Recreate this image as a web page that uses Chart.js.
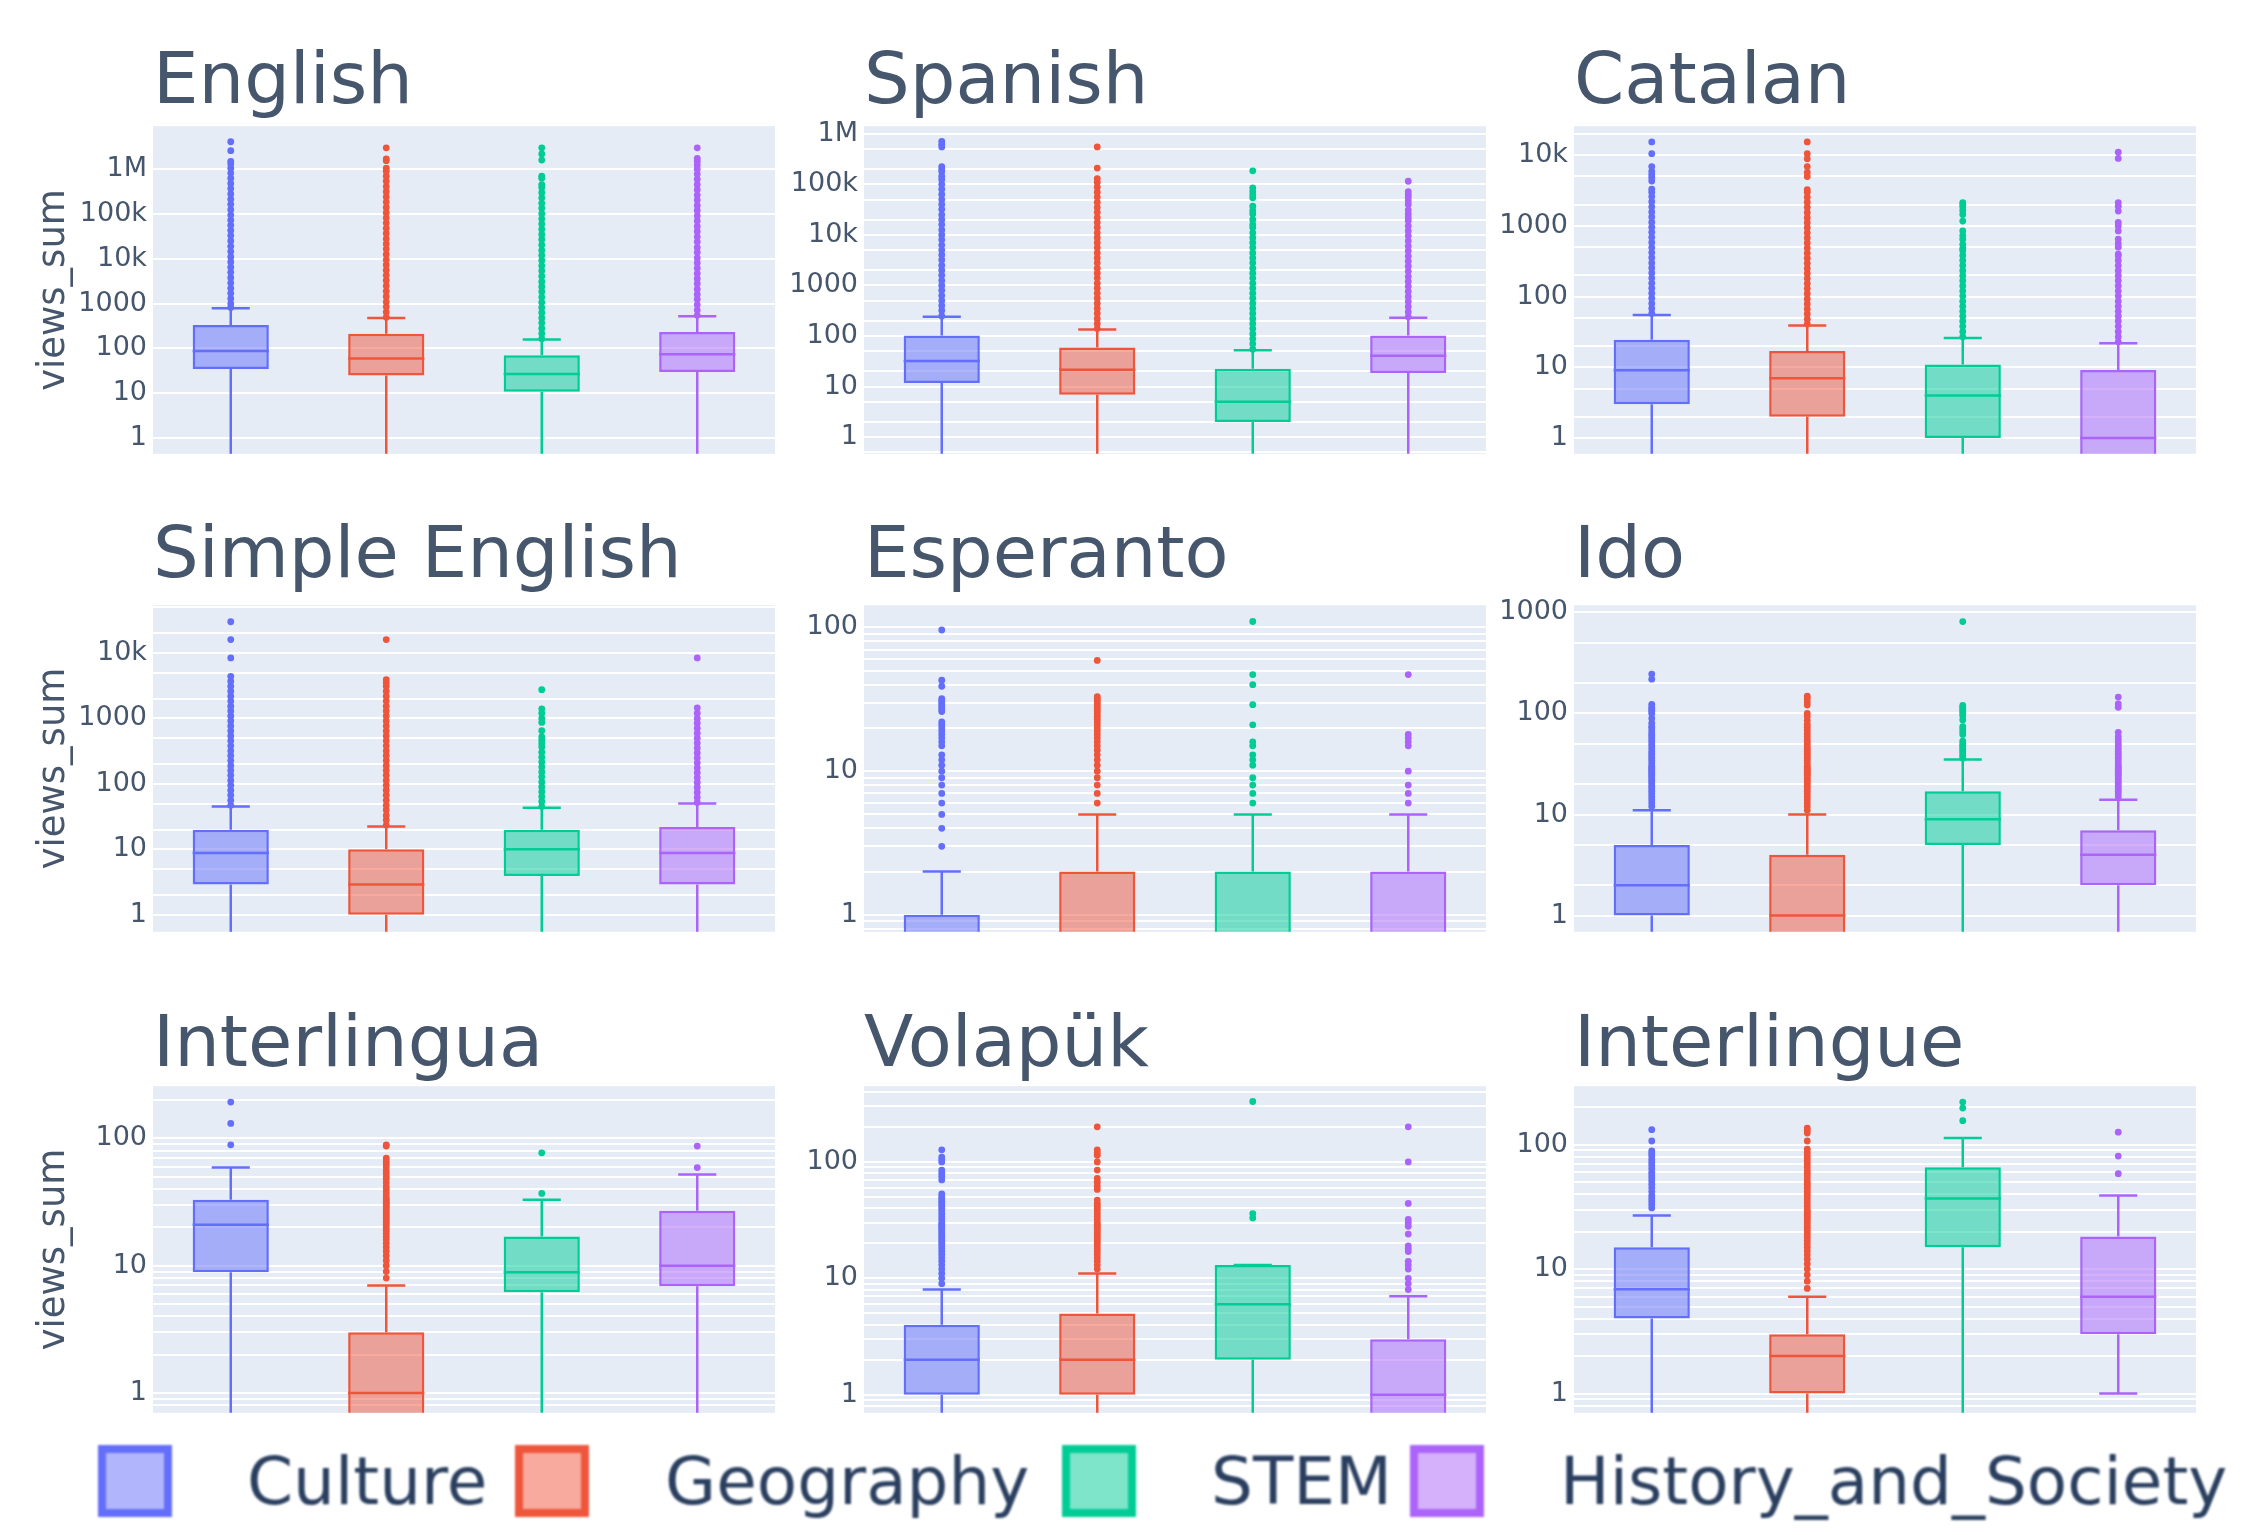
<!DOCTYPE html>
<html>
<head>
<meta charset="utf-8">
<script src="https://cdn.jsdelivr.net/npm/chart.js@4.4.1/dist/chart.umd.min.js"></script>
<style>
  html, body { margin: 0; padding: 0; background: #ffffff; }
  body { width: 2244px; height: 1535px; position: relative; overflow: hidden; font-family: "DejaVu Sans", sans-serif; }
  canvas.panel { position: absolute; }
  .ttl { position: absolute; font-size: 72px; line-height: 72px; color: #46566c; white-space: nowrap; }
  .legsq { position: absolute; box-sizing: border-box; border: 8px solid; filter: blur(1.2px); }
  .legtx { position: absolute; font-size: 66px; line-height: 66px; color: #2a3f5f; white-space: nowrap; filter: blur(1px); }
</style>
</head>
<body>
<script>
// ---------------- data ----------------
const categories = ['Culture', 'Geography', 'STEM', 'History_and_Society'];
const languages = ['English', 'Spanish', 'Catalan', 'Simple English', 'Esperanto', 'Ido', 'Interlingua', 'Volapük', 'Interlingue'];

// y axis range per panel, log10 units
const yLogRange = [
  [-0.35, 6.96], [-0.33, 6.15], [-0.22, 4.41],
  [-0.26, 4.73], [-0.118, 2.155], [-0.16, 3.07],
  [-0.14, 2.41], [-0.14, 2.65], [-0.125, 2.47]
];
// minor grid lines: none, at 2 and 5, or at every integer multiple
const minorGrid = ['none', '25', '25', '25', 'all', '25', 'all', 'all', 'all'];

const tickValues = [1, 10, 100, 1000, 10000, 100000, 1000000];
const tickLabels = ['1', '10', '100', '1000', '10k', '100k', '1M'];

// per panel: [Culture, Geography, STEM, History_and_Society]  (0 = zero views, below the log axis)
const lowerFence = [
  [0, 0, 0, 0], [0, 0, 0, 0], [0, 0, 0, 0],
  [0, 0, 0, 0], [0, 0, 0, 0], [0, 0, 0, 0],
  [0, 0, 0, 0], [0, 0, 0, 0], [0, 0, 0, 1]
];
const q1Values = [
  [35, 25, 10.8, 30], [11.7, 6.9, 2, 18.6], [3, 2, 1, 0],
  [2.9, 1, 3.9, 2.9], [0, 0, 0, 0], [1, 0, 5, 2],
  [8.9, 0, 6.2, 6.9], [1, 1, 2, 0], [4, 1, 15, 3]
];
const medianValues = [
  [88, 60, 27, 74], [32, 21.5, 5, 40.6], [9.1, 7, 4, 1],
  [8.8, 2.9, 10, 8.8], [0, 0, 0, 0], [2, 1, 9, 4],
  [21, 1, 8.9, 10], [2, 2, 6, 1], [6.9, 2, 37, 6]
];
const q3Values = [
  [335, 213, 71, 232], [102, 59, 22.4, 102], [24.5, 17, 11, 9.2],
  [20, 10, 20, 22], [1, 2, 2, 2], [5, 4, 17, 7],
  [33, 3, 17, 27], [4, 5, 13, 3], [15, 3, 66, 18.3]
];
const upperFence = [
  [790, 480, 158, 525], [240, 135, 52, 230], [55, 39, 26, 22],
  [45, 22.4, 43, 50], [2, 5, 5, 5], [11, 10, 35, 14],
  [59, 7, 33, 52], [8, 11, 13, 7], [27, 6, 113, 39]
];

// outliers per panel, per category
const outliersEnglish = [
  [820, 1000, 1300, 1700, 2200, 2900, 3800, 5000, 6500, 8500, 11000, 14500, 19000, 25000, 33000, 43000, 56000, 73000, 95000, 125000, 165000, 215000, 280000, 370000, 480000, 630000, 820000, 1050000, 1300000, 1500000, 2600000, 4100000],
  [500, 650, 850, 1100, 1450, 1900, 2500, 3300, 4300, 5600, 7300, 9500, 12500, 16500, 21500, 28000, 37000, 48000, 63000, 82000, 107000, 140000, 185000, 240000, 315000, 410000, 540000, 700000, 900000, 1050000, 1550000, 1700000, 3000000],
  [165, 215, 280, 370, 480, 630, 820, 1070, 1400, 1850, 2400, 3100, 4100, 5400, 7000, 9200, 12000, 15500, 20500, 27000, 35000, 46000, 60000, 78000, 102000, 135000, 175000, 230000, 300000, 390000, 450000, 630000, 700000, 1600000, 2200000, 3000000],
  [550, 720, 940, 1250, 1600, 2100, 2800, 3600, 4700, 6200, 8100, 10500, 14000, 18000, 24000, 31000, 41000, 53000, 70000, 91000, 120000, 155000, 205000, 265000, 350000, 455000, 600000, 780000, 1000000, 1250000, 1500000, 1750000, 3000000]
];
const outliersSpanish = [
  [250, 320, 400, 500, 630, 800, 1000, 1250, 1600, 2000, 2500, 3200, 4000, 5000, 6300, 8000, 10000, 12500, 16000, 20000, 25000, 32000, 40000, 50000, 63000, 80000, 100000, 125000, 145000, 180000, 200000, 225000, 550000, 620000, 710000],
  [140, 175, 220, 280, 350, 440, 560, 700, 880, 1100, 1400, 1750, 2200, 2800, 3500, 4400, 5600, 7000, 8800, 11000, 14000, 17500, 22000, 28000, 35000, 44000, 56000, 70000, 88000, 110000, 130000, 210000, 550000],
  [55, 70, 88, 110, 140, 175, 220, 280, 350, 440, 560, 700, 880, 1100, 1400, 1750, 2200, 2800, 3500, 4400, 5600, 7000, 8800, 11000, 14000, 16000, 20000, 26000, 30000, 37000, 54000, 62000, 72000, 85000, 185000],
  [240, 300, 380, 480, 600, 760, 960, 1200, 1500, 1900, 2400, 3000, 3800, 4800, 6000, 7600, 9600, 12000, 15000, 19000, 22000, 26000, 31000, 40000, 47000, 55000, 63000, 72000, 115000]
];
const outliersCatalan = [
  [58, 68, 80, 95, 112, 132, 155, 183, 216, 255, 300, 355, 420, 495, 585, 690, 815, 960, 1130, 1340, 1580, 1860, 2200, 2600, 3000, 3300, 4300, 4800, 5300, 5900, 6900, 10500, 15400],
  [41, 48, 57, 67, 79, 93, 110, 130, 153, 180, 213, 250, 296, 350, 412, 486, 574, 677, 800, 944, 1110, 1310, 1550, 1830, 2160, 2550, 3000, 3250, 5000, 5700, 6900, 8900, 10500, 15400],
  [27, 32, 38, 45, 53, 62, 73, 86, 102, 120, 142, 168, 198, 233, 275, 325, 383, 450, 480, 550, 650, 730, 850, 1170, 1450, 1650, 1850, 2000, 2140],
  [23, 27, 32, 38, 45, 53, 62, 73, 86, 102, 120, 142, 168, 198, 233, 275, 325, 380, 400, 500, 560, 650, 850, 1000, 1120, 1620, 1900, 2140, 9000, 11000]
];
const outliersSimpleEnglish = [
  [47, 56, 67, 80, 95, 113, 135, 160, 190, 227, 270, 320, 382, 455, 540, 645, 767, 913, 1090, 1300, 1540, 1840, 2190, 2600, 3100, 3700, 4400, 8400, 16000, 30000],
  [23.5, 28, 33, 40, 47, 56, 67, 80, 95, 113, 135, 160, 190, 227, 270, 320, 382, 455, 540, 645, 767, 913, 1090, 1300, 1540, 1840, 2190, 2600, 3100, 3500, 3900, 16000],
  [45, 54, 64, 76, 90, 107, 128, 152, 181, 215, 256, 305, 365, 410, 460, 520, 650, 870, 1000, 1200, 1400, 2750],
  [52, 62, 74, 88, 105, 125, 148, 176, 210, 250, 297, 354, 420, 500, 595, 710, 845, 1000, 1200, 1450, 8400]
];
const outliersEsperanto = [
  [3, 4, 5, 6, 7, 8, 9, 10, 11, 12, 13, 15, 16, 17, 18, 19, 20, 21, 22, 26, 27, 28, 29, 30, 31, 32, 39, 43, 96],
  [6, 7, 8, 9, 10, 11, 12, 13, 14, 15, 16, 17, 18, 19, 20, 21, 22, 23, 24, 25, 26, 27, 28, 29, 30, 31, 32, 33, 59],
  [6, 7, 8, 9, 11, 12, 13, 15, 16, 21, 29, 40, 47, 110],
  [6, 7, 8, 10, 15, 16, 17, 18, 47]
];
const outliersIdo = [
  [12, 13, 14, 15, 16, 17, 18, 19, 20, 21, 22, 23, 24, 25, 26, 27, 28, 29, 30, 32, 34, 36, 38, 40, 42, 45, 48, 51, 54, 57, 60, 63, 67, 72, 74, 80, 89, 100, 105, 110, 115, 123, 218, 245],
  [11, 12, 13, 14, 15, 16, 17, 18, 19, 20, 21, 22, 23, 24, 25, 26, 27, 28, 29, 30, 32, 34, 36, 38, 40, 42, 44, 46, 49, 52, 55, 59, 63, 68, 73, 78, 85, 93, 100, 121, 130, 140, 148],
  [36, 38, 40, 42, 44, 46, 48, 50, 53, 62, 66, 70, 74, 86, 95, 100, 105, 110, 115, 120, 810],
  [15, 16, 17, 18, 19, 20, 21, 22, 23, 24, 25, 26, 27, 28, 29, 30, 32, 34, 36, 38, 40, 42, 45, 48, 51, 55, 59, 65, 115, 124, 145]
];
const outliersInterlingua = [
  [89, 131, 193],
  [8, 9, 10, 11, 12, 13, 14, 15, 16, 17, 18, 19, 20, 21, 22, 23, 24, 25, 26, 27, 28, 29, 30, 31, 32, 33, 34, 36, 38, 40, 42, 45, 48, 50, 53, 56, 60, 63, 66, 70, 87, 89],
  [37, 77],
  [59, 87]
];
const outliersVolapuk = [
  [9, 10, 11, 12, 13, 14, 15, 16, 17, 18, 19, 20, 21, 22, 23, 24, 25, 26, 27, 28, 29, 30, 32, 34, 36, 38, 40, 42, 44, 46, 48, 50, 53, 70, 75, 80, 85, 100, 105, 110, 127],
  [12, 13, 14, 15, 16, 17, 18, 19, 20, 21, 22, 23, 24, 25, 26, 27, 28, 29, 30, 32, 34, 36, 38, 40, 42, 44, 47, 58, 62, 67, 72, 85, 100, 114, 120, 127, 200],
  [33, 36, 330],
  [8, 9, 10, 12, 13, 14, 17, 18, 19, 24, 28, 30, 32, 44, 100, 200]
];
const outliersInterlingue = [
  [31, 33, 35, 37, 39, 42, 45, 48, 51, 54, 57, 60, 64, 68, 72, 76, 81, 85, 89, 107, 132],
  [7, 8, 9, 10, 11, 12, 13, 14, 15, 16, 17, 18, 19, 20, 21, 22, 23, 24, 25, 26, 27, 28, 29, 30, 32, 34, 36, 38, 40, 42, 44, 46, 48, 50, 53, 56, 59, 62, 66, 70, 74, 78, 82, 87, 92, 107, 124, 130, 136],
  [156, 197, 220],
  [58.5, 81, 126]
];
const outliers = [outliersEnglish, outliersSpanish, outliersCatalan, outliersSimpleEnglish, outliersEsperanto,
                  outliersIdo, outliersInterlingua, outliersVolapuk, outliersInterlingue];

// ---------------- styles / layout ----------------
const colors = ['#636efa', '#EF553B', '#00cc96', '#ab63fa'];
const fills = ['rgba(99,110,250,0.5)', 'rgba(239,85,59,0.5)', 'rgba(0,204,150,0.5)', 'rgba(171,99,250,0.5)'];
const textColor = '#46566c';
const plotLeft = [153, 864, 1574];
const plotW = 626;
const plotTop = [124, 603, 1084];
const plotH = [332, 331, 331];
const titleTop = [42, 516, 1005];
const axisW = [153, 80, 80];
const PAD = 20;
const BOX_HALF = 0.245, CAP_HALF = 0.1225;
const BELOW_AXIS = 1e-3;  // stands in for 0 on the log axis
const pos = v => (v > 0 ? v : BELOW_AXIS);

const plotBg = {
  id: 'plotBg',
  beforeDraw(chart) {
    const { ctx, chartArea: a } = chart;
    ctx.save();
    ctx.fillStyle = '#E5ECF6';
    ctx.fillRect(a.left, a.top, a.right - a.left, a.bottom - a.top);
    ctx.restore();
  }
};

function buildLogTicks(min, max, mode) {
  const mults = mode === 'all' ? [1, 2, 3, 4, 5, 6, 7, 8, 9] : mode === '25' ? [1, 2, 5] : [1];
  const out = [];
  for (let e = Math.floor(Math.log10(min)) - 1; e <= Math.ceil(Math.log10(max)); e++) {
    for (const m of mults) {
      const v = m * Math.pow(10, e);
      if (v >= min * 0.9999 && v <= max * 1.0001) out.push({ value: v });
    }
  }
  return out;
}
function tickLabel(v) {
  for (let k = 0; k < tickValues.length; k++) {
    if (Math.abs(v - tickValues[k]) < tickValues[k] * 1e-6) return tickLabels[k];
  }
  return '';
}

function panelDatasets(p) {
  const ds = [];
  ds.push({
    type: 'bar', xAxisID: 'x', yAxisID: 'y',
    data: categories.map((c, i) => [pos(q1Values[p][i]), q3Values[p][i]]),
    backgroundColor: fills, borderColor: colors, borderWidth: 2.5, borderSkipped: false,
    grouped: false, barPercentage: 0.49, categoryPercentage: 1, order: 2
  });
  categories.forEach((c, i) => {
    const lo = pos(lowerFence[p][i]), a = pos(q1Values[p][i]), m = pos(medianValues[p][i]);
    const b = q3Values[p][i], hi = upperFence[p][i];
    ds.push({
      type: 'line', xAxisID: 'x2', yAxisID: 'y',
      data: [
        { x: i, y: lo }, { x: i, y: a }, { x: i, y: null },
        { x: i, y: b }, { x: i, y: hi }, { x: i, y: null },
        { x: i - CAP_HALF, y: hi }, { x: i + CAP_HALF, y: hi }, { x: i, y: null },
        { x: i - CAP_HALF, y: lo }, { x: i + CAP_HALF, y: lo }, { x: i, y: null },
        { x: i - BOX_HALF, y: m }, { x: i + BOX_HALF, y: m }
      ],
      borderColor: colors[i], borderWidth: 2.5, pointRadius: 0, fill: false, spanGaps: false, order: 1
    });
    ds.push({
      type: 'scatter', xAxisID: 'x2', yAxisID: 'y', showLine: false,
      data: outliers[p][i].map(v => ({ x: i, y: v })),
      backgroundColor: colors[i], borderWidth: 0, pointRadius: 3.4, order: 0
    });
  });
  return ds;
}

languages.forEach((lang, p) => {
  const r = Math.floor(p / 3), c = p % 3;
  const cv = document.createElement('canvas');
  cv.className = 'panel';
  const W = axisW[c] + plotW, H = plotH[r] + 2 * PAD;
  cv.width = W; cv.height = H;
  cv.style.left = (plotLeft[c] - axisW[c]) + 'px';
  cv.style.top = (plotTop[r] - PAD) + 'px';
  cv.style.width = W + 'px'; cv.style.height = H + 'px';
  document.body.appendChild(cv);

  const t = document.createElement('div');
  t.className = 'ttl';
  t.textContent = lang;
  t.style.left = plotLeft[c] + 'px';
  t.style.top = titleTop[r] + 'px';
  document.body.appendChild(t);

  const ymin = Math.pow(10, yLogRange[p][0]), ymax = Math.pow(10, yLogRange[p][1]);
  new Chart(cv, {
    type: 'bar',
    data: { labels: categories, datasets: panelDatasets(p) },
    options: {
      responsive: false, animation: false, devicePixelRatio: 1, events: [],
      layout: { padding: { top: PAD, bottom: PAD, left: 0, right: 0 } },
      plugins: { legend: { display: false }, tooltip: { enabled: false } },
      scales: {
        x: { type: 'category', display: false, offset: true, grid: { display: false } },
        x2: { type: 'linear', display: false, offset: false, min: -0.5, max: 3.5, grid: { display: false, offset: false } },
        y: {
          type: 'logarithmic', min: ymin, max: ymax,
          afterBuildTicks: ax => { ax.ticks = buildLogTicks(ymin, ymax, minorGrid[p]); },
          afterFit: ax => { ax.width = axisW[c]; },
          ticks: {
            autoSkip: false, padding: 6, color: textColor,
            font: { family: 'DejaVu Sans', size: 27 },
            callback: v => tickLabel(v)
          },
          grid: { color: '#ffffff', lineWidth: 2, drawTicks: false },
          border: { display: false },
          title: {
            display: c === 0, text: 'views_sum', color: textColor,
            font: { family: 'DejaVu Sans', size: 37 }, padding: { top: 32, bottom: 0 }
          }
        }
      }
    },
    plugins: [plotBg]
  });
});

// ---------------- legend ----------------
const legSqLeft = [98, 515, 1062, 1410];
const legTxLeft = [247, 665, 1211, 1560];
categories.forEach((c, i) => {
  const sq = document.createElement('div');
  sq.className = 'legsq';
  sq.style.left = legSqLeft[i] + 'px'; sq.style.top = '1445px';
  sq.style.width = '74px'; sq.style.height = '72px';
  sq.style.borderColor = colors[i]; sq.style.background = fills[i];
  document.body.appendChild(sq);
  const tx = document.createElement('div');
  tx.className = 'legtx';
  tx.textContent = c;
  tx.style.left = legTxLeft[i] + 'px'; tx.style.top = '1449px';
  document.body.appendChild(tx);
});
</script>
</body>
</html>
